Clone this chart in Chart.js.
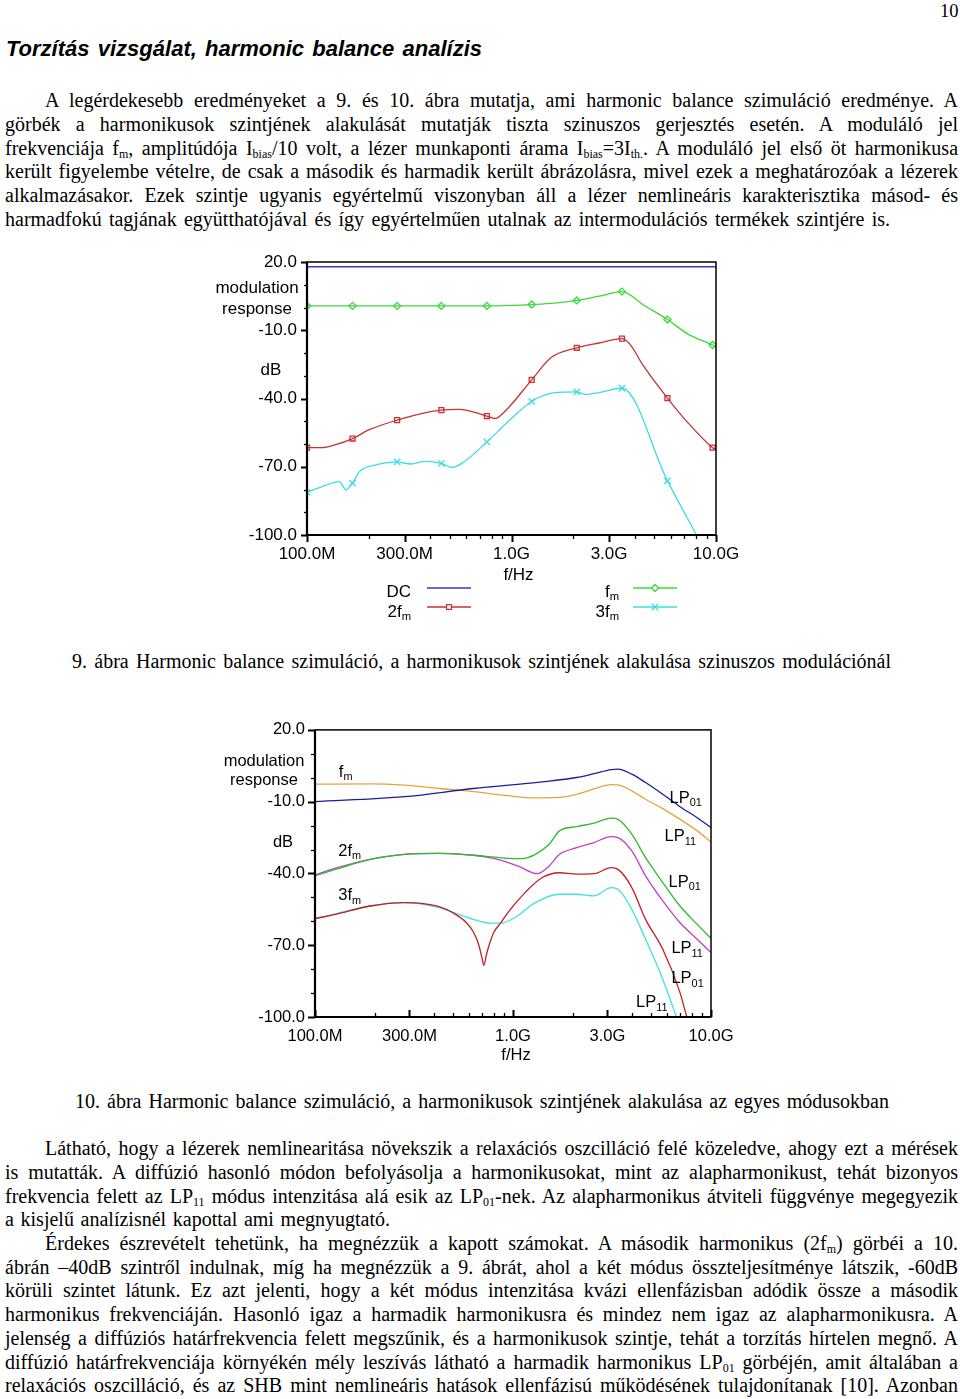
<!DOCTYPE html>
<html><head><meta charset="utf-8">
<script src="https://cdn.jsdelivr.net/npm/chart.js@4.4.1/dist/chart.umd.min.js"></script>
<style>
html,body{margin:0;padding:0;background:#fff;}
#page{position:relative;width:960px;height:1399px;overflow:hidden;background:#fff;color:#000;}
.t{position:absolute;white-space:nowrap;font-family:'Liberation Serif','Times New Roman',serif;font-size:20px;line-height:20px;}
.t sub{font-size:0.6em;vertical-align:baseline;position:relative;top:0.28em;line-height:0;}
.h{font-family:'Liberation Sans',Arial,sans-serif;font-weight:bold;font-style:italic;}
canvas{position:absolute;}
</style></head>
<body><div id="page">
<canvas id="c1" width="560" height="400" style="left:200px;top:240px;width:560px;height:400px"></canvas>
<canvas id="c2" width="560" height="380" style="left:200px;top:710px;width:560px;height:380px"></canvas>
</div>
<script>
// ---------------- DATA (chart 9) ----------------
const xTickValues = [100, 300, 1000, 3000, 10000];           // MHz
const xTickLabels = ['100.0M', '300.0M', '1.0G', '3.0G', '10.0G'];
const xMinorTicks = [200, 400, 500, 600, 700, 800, 900, 2000, 4000, 5000, 6000, 7000, 8000, 9000];
const yTickValues = [20, -10, -40, -70, -100];
const yTickLabels = ['20.0', '-10.0', '-40.0', '-70.0', '-100.0'];

const markerFreq1 = [100, 167, 276, 454, 758, 1255, 2086, 3469, 5788, 9620];

const dcFreq1 = [100, 10000];
const dcDb1   = [17.9, 17.9];

const fmFreq1 = [100, 167, 276, 454, 758, 948, 1255, 1625, 2086, 2680, 3469, 4420, 5788, 7295, 9620, 10000];
const fmDb1   = [0.7, 0.7, 0.7, 0.7, 0.7, 0.9, 1.3, 1.9, 3.1, 5.0, 7.0, 1.1, -5.3, -11.7, -16.5, -17.3];

const f2Freq1 = [100, 118.5, 138, 167, 203, 276, 362, 454, 553, 758, 831, 948, 1255, 1563, 2086, 2680, 3469, 3790, 4420, 5788, 7295, 9620, 10000];
const f2Db1   = [-61.6, -61.6, -60.3, -57.6, -53.6, -49.5, -46.6, -45.1, -44.8, -47.7, -48.8, -44.8, -31.8, -22.0, -17.7, -15.6, -13.7, -16.1, -25.7, -39.8, -50.7, -61.6, -62.5];

const f3Freq1 = [100, 118.5, 144, 155, 167, 181, 219, 276, 322, 376, 454, 512, 574, 758, 948, 1255, 1625, 2086, 2297, 2680, 3469, 5788, 8030, 10000];
const f3Db1   = [-81.3, -78.7, -76.5, -80.1, -77.2, -72.0, -69.1, -67.9, -68.8, -67.6, -68.5, -70.3, -68.4, -59.1, -50.7, -41.3, -37.4, -37.1, -38.2, -37.4, -35.5, -76.2, -100.0, -116.0];

// ---------------- DATA (chart 10) ----------------
const fmLP01Freq = [100, 283, 631, 1405, 2097, 2563, 3131, 3392, 3981, 4673, 5708, 6974, 8521, 10000];
const fmLP01Db   = [-10.0, -7.9, -4.5, -1.7, 0.1, 1.7, 3.4, 3.6, 1.5, -2.0, -6.9, -12.1, -16.7, -20.8];

const fmLP11Freq = [100, 190, 283, 423, 631, 942, 1297, 1717, 2097, 2563, 3131, 3392, 3981, 4673, 5708, 6974, 8521, 10000];
const fmLP11Db   = [-2.7, -2.6, -3.1, -4.5, -5.8, -7.5, -8.4, -8.2, -6.9, -4.7, -2.9, -3.0, -5.5, -9.0, -12.9, -17.4, -22.2, -26.8];

const f2LP01Freq = [100, 127, 190, 283, 423, 631, 942, 1105, 1297, 1523, 1717, 2097, 2563, 3131, 3392, 3981, 4673, 5708, 6974, 8521, 10000];
const f2LP01Db   = [-41.0, -38.3, -34.1, -32.0, -31.6, -32.4, -33.7, -33.8, -32.0, -27.8, -22.2, -20.4, -19.0, -16.9, -17.4, -23.6, -33.4, -43.8, -53.6, -61.3, -67.1];

const f2LP11Freq = [100, 127, 190, 283, 423, 631, 835, 1062, 1323, 1523, 1717, 2097, 2563, 3131, 3392, 3981, 4673, 5708, 6974, 8521, 10000];
const f2LP11Db   = [-40.6, -37.8, -34.1, -32.0, -31.6, -32.4, -34.1, -36.9, -40.1, -36.9, -32.0, -29.2, -27.1, -24.6, -25.0, -30.6, -41.0, -51.5, -60.6, -67.5, -73.1];

const f3LP01Freq = [100, 127, 190, 283, 346, 423, 496, 582, 631, 670, 697, 712, 735, 755, 802, 869, 942, 1150, 1405, 1717, 2097, 2563, 3131, 3392, 3981, 4673, 5708, 6974, 7555, 8521];
const f3LP01Db   = [-58.9, -57.1, -53.6, -52.2, -52.5, -53.9, -56.4, -60.6, -64.5, -69.6, -75.2, -78.4, -73.8, -70.3, -64.5, -60.6, -56.4, -48.0, -41.7, -39.7, -40.3, -40.1, -37.6, -38.3, -45.9, -59.2, -71.7, -89.8, -100.0, -112.0];

const f3LP11Freq = [100, 127, 190, 283, 423, 516, 631, 771, 869, 1020, 1297, 1717, 2097, 2563, 3131, 3392, 3981, 4673, 5708, 6700, 7555];
const f3LP11Db   = [-58.9, -56.9, -53.6, -52.2, -54.3, -56.7, -59.2, -60.8, -60.8, -58.5, -52.2, -48.7, -48.7, -49.4, -45.9, -46.6, -55.0, -67.5, -84.2, -100.0, -110.0];

// ---------------- PAGE TEXT ----------------
const SERIF_BASE = 0.8375; // baseline offset within 1em line box (Liberation Serif)
const FS = 20;
const lines = [
  {h:'10', x:940, b:17, w:null, fs:18.5},
  {h:'Torzítás vizsgálat, harmonic balance analízis', x:6, b:57, w:476, cls:'t h', fs:22, base:0.8465},
  {h:'A legérdekesebb eredményeket a 9. és 10. ábra mutatja, ami harmonic balance szimuláció eredménye. A', x:45, b:107, w:913},
  {h:'görbék a harmonikusok szintjének alakulását mutatják tiszta szinuszos gerjesztés esetén. A moduláló jel', x:5, b:130.7, w:953},
  {h:'frekvenciája f<sub>m</sub>, amplitúdója I<sub>bias</sub>/10 volt, a lézer munkaponti árama I<sub>bias</sub>=3I<sub>th.</sub>. A moduláló jel első öt harmonikusa', x:5, b:154.4, w:953},
  {h:'került figyelembe vételre, de csak a második és harmadik került ábrázolásra, mivel ezek a meghatározóak a lézerek', x:5, b:178.1, w:953},
  {h:'alkalmazásakor. Ezek szintje ugyanis egyértelmű viszonyban áll a lézer nemlineáris karakterisztika másod- és', x:5, b:201.8, w:953},
  {h:'harmadfokú tagjának együtthatójával és így egyértelműen utalnak az intermodulációs termékek szintjére is.', x:5, b:225.5, w:885},
  {h:'9. ábra Harmonic balance szimuláció, a harmonikusok szintjének alakulása szinuszos modulációnál', x:72, b:668, w:819},
  {h:'10. ábra Harmonic balance szimuláció, a harmonikusok szintjének alakulása az egyes módusokban', x:75, b:1108, w:814},
  {h:'Látható, hogy a lézerek nemlinearitása növekszik a relaxációs oszcilláció felé közeledve, ahogy ezt a mérések', x:45, b:1155, w:913},
  {h:'is mutatták. A diffúzió hasonló módon befolyásolja a harmonikusokat, mint az alapharmonikust, tehát bizonyos', x:5, b:1178.7, w:953},
  {h:'frekvencia felett az LP<sub>11</sub> módus intenzitása alá esik az LP<sub>01</sub>-nek. Az alapharmonikus átviteli függvénye megegyezik', x:5, b:1202.4, w:953},
  {h:'a kisjelű analízisnél kapottal ami megnyugtató.', x:5, b:1226.1, w:385},
  {h:'Érdekes észrevételt tehetünk, ha megnézzük a kapott számokat. A második harmonikus (2f<sub>m</sub>) görbéi a 10.', x:45, b:1249.8, w:913},
  {h:'ábrán –40dB szintről indulnak, míg ha megnézzük a 9. ábrát, ahol a két módus összteljesítménye látszik, -60dB', x:5, b:1273.5, w:953},
  {h:'körüli szintet látunk. Ez azt jelenti, hogy a két módus intenzitása kvázi ellenfázisban adódik össze a második', x:5, b:1297.2, w:953},
  {h:'harmonikus frekvenciáján. Hasonló igaz a harmadik harmonikusra és mindez nem igaz az alapharmonikusra. A', x:5, b:1320.9, w:953},
  {h:'jelenség a diffúziós határfrekvencia felett megszűnik, és a harmonikusok szintje, tehát a torzítás hírtelen megnő. A', x:5, b:1344.6, w:953},
  {h:'diffúzió határfrekvenciája környékén mély leszívás látható a harmadik harmonikus LP<sub>01</sub> görbéjén, amit általában a', x:5, b:1368.3, w:953},
  {h:'relaxációs oszcilláció, és az SHB mint nemlineáris hatások ellenfázisú működésének tulajdonítanak [10]. Azonban', x:5, b:1392, w:953}
];
const page = document.getElementById('page');
lines.forEach(L => {
  const d = document.createElement('div');
  d.className = L.cls || 't';
  const fs = L.fs || FS;
  d.style.fontSize = fs + 'px'; d.style.lineHeight = fs + 'px';
  d.innerHTML = L.h;
  d.style.left = L.x + 'px';
  d.style.top = (L.b - fs * (L.base || SERIF_BASE)) + 'px';
  page.appendChild(d);
  if (L.w) {
    const nat = d.getBoundingClientRect().width;
    const n = (d.textContent.match(/ /g) || []).length;
    let ws = n > 0 ? (L.w - nat) / n : 0;
    if (ws < -1.5) {            // too long: compress glyphs slightly instead
      ws = -1.5;
      d.style.wordSpacing = ws + 'px';
      const nat2 = d.getBoundingClientRect().width;
      d.style.transformOrigin = 'left center';
      d.style.transform = 'scaleX(' + (L.w / nat2) + ')';
    } else {
      d.style.wordSpacing = ws + 'px';
    }
  }
});

// ---------------- CHART HELPERS ----------------
const F = "'Liberation Sans', Arial, sans-serif";
function pts(f, v) { return f.map((x, i) => ({x: x, y: v[i]})); }
function subText(ctx, s, x, y, align, size) {
  const parts = s.split('_');
  ctx.font = size + 'px ' + F;
  const w1 = ctx.measureText(parts[0]).width;
  let w2 = 0;
  if (parts[1]) { ctx.font = (size * 0.66) + 'px ' + F; w2 = ctx.measureText(parts[1]).width; }
  const tot = w1 + w2;
  let x0 = align === 'right' ? x - tot : align === 'center' ? x - tot / 2 : x;
  ctx.textAlign = 'left'; ctx.textBaseline = 'middle'; ctx.fillStyle = '#000';
  ctx.font = size + 'px ' + F; ctx.fillText(parts[0], x0, y);
  if (parts[1]) { ctx.font = (size * 0.66) + 'px ' + F; ctx.fillText(parts[1], x0 + w1, y + size * 0.3); }
}
function axesPlugin(cfg) {
  return {
    id: 'axesDeco',
    afterDatasetsDraw(chart) {
      const {ctx, chartArea: a, scales: {x, y}} = chart;
      ctx.save();
      ctx.strokeStyle = '#000';
      y.ticks.forEach(t => {
        const py = Math.round(y.getPixelForValue(t.value)) + 0.5;
        const major = yTickValues.includes(t.value);
        ctx.lineWidth = major ? 2 : 1.3;
        ctx.beginPath(); ctx.moveTo(a.left - (major ? cfg.yMajor : cfg.yMinor), py); ctx.lineTo(a.left, py); ctx.stroke();
      });
      x.ticks.forEach(t => {
        const px = Math.round(x.getPixelForValue(t.value)) + 0.5;
        const major = xTickValues.includes(t.value);
        ctx.lineWidth = major ? 2 : 1.3;
        const len = major ? cfg.xMajor : cfg.xMinor;
        ctx.beginPath(); ctx.moveTo(px, a.bottom); ctx.lineTo(px, a.bottom + cfg.xDir * len); ctx.stroke();
      });
      ctx.lineWidth = cfg.frame;
      ctx.strokeRect(a.left, a.top, a.right - a.left, a.bottom - a.top);
      ctx.lineWidth = cfg.axis;
      ctx.beginPath(); ctx.moveTo(a.left, a.top); ctx.lineTo(a.left, a.bottom); ctx.lineTo(a.right, a.bottom); ctx.stroke();
      const ts = cfg.titleSize;
      subText(ctx, 'modulation', a.left + cfg.titleDx, y.getPixelForValue(cfg.modDb), 'center', ts);
      subText(ctx, 'response', a.left + cfg.titleDx, y.getPixelForValue(cfg.respDb), 'center', ts);
      subText(ctx, 'dB', a.left + cfg.dbDx, y.getPixelForValue(cfg.dbDb), 'center', ts);
      subText(ctx, 'f/Hz', x.getPixelForValue(1000) + cfg.fhzDx, a.bottom + cfg.fhzDy, 'center', ts);
      if (cfg.extra) cfg.extra(chart, ctx);
      ctx.restore();
    }
  };
}
function scalesCfg(fs, xPad, yPad, xH, yW) {
  return {
    x: {
      type: 'logarithmic', min: 100, max: 10000,
      grid: {display: false, drawTicks: false}, border: {display: false},
      afterBuildTicks: s => { s.ticks = xTickValues.concat(xMinorTicks).sort((p, q) => p - q).map(v => ({value: v})); },
      ticks: {autoSkip: false, maxRotation: 0, minRotation: 0, padding: xPad, color: '#000', font: {family: F, size: fs},
        callback: v => { const i = xTickValues.indexOf(v); return i >= 0 ? xTickLabels[i] : ''; }},
      afterFit: s => { s.height = xH; }
    },
    y: {
      min: -100, max: 20,
      grid: {display: false, drawTicks: false}, border: {display: false},
      afterBuildTicks: s => { const t = []; for (let v = 20; v >= -100; v -= 10) t.push({value: v}); s.ticks = t.reverse(); },
      ticks: {autoSkip: false, padding: yPad, color: '#000', font: {family: F, size: fs},
        callback: v => { const i = yTickValues.indexOf(v); return i >= 0 ? yTickLabels[i] : ''; }},
      afterFit: s => { s.width = yW; }
    }
  };
}

// ---------------- CHART 9 ----------------
const C1 = {dc: '#3636c8', fm: '#3cd83c', f2: '#c83232', f3: '#3cdce4'};
const markerR = r => (ctx => (ctx.raw && markerFreq1.includes(ctx.raw.x)) ? r : 0);
const legend1 = (chart, ctx) => {
  const a = chart.chartArea;
  const items = [
    {t: 'DC', c: C1.dc, s: null, r: 0, tx: a.left + 104, lx: a.left + 120, ty: a.bottom + 57, ly: a.bottom + 53},
    {t: '2f_m', c: C1.f2, s: 'rect', r: 3.5, tx: a.left + 104, lx: a.left + 120, ty: a.bottom + 77, ly: a.bottom + 72},
    {t: 'f_m', c: C1.fm, s: 'rectRot', r: 3.5, tx: a.left + 312, lx: a.left + 326, ty: a.bottom + 57, ly: a.bottom + 53},
    {t: '3f_m', c: C1.f3, s: 'crossRot', r: 4.5, tx: a.left + 312, lx: a.left + 326, ty: a.bottom + 77, ly: a.bottom + 72}
  ];
  items.forEach(it => {
    subText(ctx, it.t, it.tx, it.ty, 'right', 17);
    ctx.strokeStyle = it.c; ctx.lineWidth = 1.5;
    ctx.beginPath(); ctx.moveTo(it.lx, it.ly); ctx.lineTo(it.lx + 44, it.ly); ctx.stroke();
    if (it.s) {
      ctx.fillStyle = '#ffffff'; ctx.strokeStyle = it.c; ctx.lineWidth = 1.3;
      Chart.helpers.drawPoint(ctx, {pointStyle: it.s, radius: it.r, borderWidth: 1.3, rotation: 0}, it.lx + 22, it.ly);
    }
  });
};
new Chart(document.getElementById('c1'), {
  type: 'line',
  data: {datasets: [
    {label: 'DC', data: pts(dcFreq1, dcDb1), borderColor: C1.dc, borderWidth: 1.5, pointRadius: 0},
    {label: 'fm', data: pts(fmFreq1, fmDb1), borderColor: C1.fm, pointStyle: 'rectRot', pointRadius: markerR(3.5), pointBorderColor: C1.fm, pointBackgroundColor: 'rgba(255,255,255,0)', pointBorderWidth: 1.3},
    {label: '2fm', data: pts(f2Freq1, f2Db1), borderColor: C1.f2, pointStyle: 'rect', pointRadius: markerR(3.5), pointBorderColor: C1.f2, pointBackgroundColor: 'rgba(255,255,255,0)', pointBorderWidth: 1.3},
    {label: '3fm', data: pts(f3Freq1, f3Db1), borderColor: C1.f3, pointStyle: 'crossRot', pointRadius: markerR(4.5), pointBorderColor: C1.f3, pointBorderWidth: 1.3}
  ]},
  options: {
    responsive: false, animation: false, devicePixelRatio: 1,
    layout: {padding: {top: 22, right: 44, left: 0, bottom: 0}},
    plugins: {legend: {display: false}, tooltip: {enabled: false}},
    elements: {line: {borderWidth: 1.3, cubicInterpolationMode: 'monotone'}, point: {hoverRadius: 0}},
    scales: scalesCfg(17, 9, 10, 105, 107)
  },
  plugins: [axesPlugin({yMajor: 6, yMinor: 3, xMajor: 7, xMinor: 4, xDir: 1, frame: 1.5, axis: 2.2, titleSize: 17,
    titleDx: -50, modDb: 8.5, respDb: -0.6, dbDx: -36, dbDb: -27.4, fhzDx: 7, fhzDy: 40, extra: legend1})]
});

// ---------------- CHART 10 ----------------
const C2 = {b: '#1c1c9c', o: '#e8a33a', g: '#2fbb2f', m: '#c23fcb', r: '#c22020', c: '#42e0e0'};
const labels2 = (chart, ctx) => {
  const {scales: {x, y}} = chart;
  const L = [
    ['f_m', 132, 2.2], ['2f_m', 131, -30.6], ['3f_m', 131, -49.4],
    ['LP_01', 6180, -8.6], ['LP_11', 5820, -24.6], ['LP_01', 6100, -43.8],
    ['LP_11', 6310, -71.4], ['LP_01', 6310, -84.0], ['LP_11', 4180, -94.0]
  ];
  L.forEach(l => subText(ctx, l[0], x.getPixelForValue(l[1]), y.getPixelForValue(l[2]), 'left', 16.5));
};
const ds2 = (d, c) => ({data: d, borderColor: c, borderWidth: 1.3, pointRadius: 0});
new Chart(document.getElementById('c2'), {
  type: 'line',
  data: {datasets: [
    ds2(pts(fmLP01Freq, fmLP01Db), C2.b),
    ds2(pts(fmLP11Freq, fmLP11Db), C2.o),
    ds2(pts(f2LP01Freq, f2LP01Db), C2.g),
    ds2(pts(f2LP11Freq, f2LP11Db), C2.m),
    ds2(pts(f3LP01Freq, f3LP01Db), C2.r),
    ds2(pts(f3LP11Freq, f3LP11Db), C2.c)
  ]},
  options: {
    responsive: false, animation: false, devicePixelRatio: 1,
    layout: {padding: {top: 19, right: 49, left: 0, bottom: 0}},
    plugins: {legend: {display: false}, tooltip: {enabled: false}},
    elements: {line: {cubicInterpolationMode: 'monotone'}},
    scales: scalesCfg(16.5, 10, 10, 73, 115)
  },
  plugins: [axesPlugin({yMajor: 7, yMinor: 4, xMajor: 7, xMinor: 4, xDir: -1, frame: 1.5, axis: 2.2, titleSize: 16.5,
    titleDx: -51, modDb: 7.0, respDb: -1.3, dbDx: -32, dbDb: -27.1, fhzDx: 3, fhzDy: 38, extra: labels2})]
});
</script>
</body></html>
